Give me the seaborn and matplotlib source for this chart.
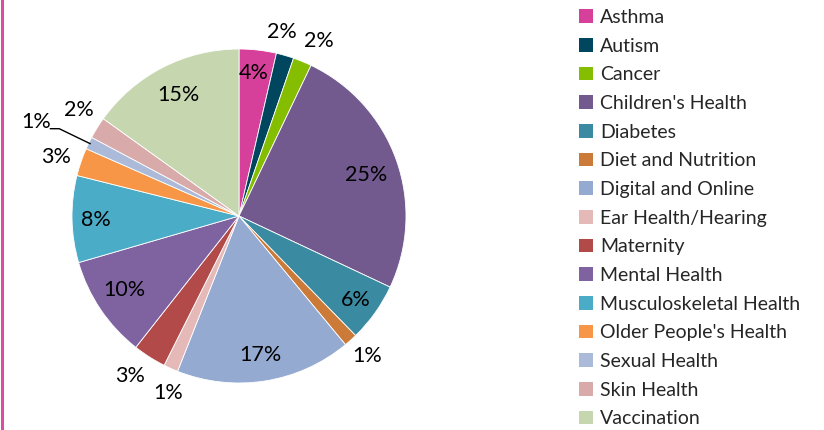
import numpy as np
import matplotlib
matplotlib.use("Agg")
import matplotlib.pyplot as plt
from matplotlib.patches import Patch
import seaborn as sns

categories = ["Asthma", "Autism", "Cancer", "Children's Health", "Diabetes",
              "Diet and Nutrition", "Digital and Online", "Ear Health/Hearing",
              "Maternity", "Mental Health", "Musculoskeletal Health",
              "Older People's Health", "Sexual Health", "Skin Health", "Vaccination"]
values = [3.6, 1.7, 1.8, 24.9, 5.7, 1.3, 17.0, 1.4, 3.2, 9.9, 8.4, 2.7, 1.2, 2.1, 15.1]
pct_labels = ["4%", "2%", "2%", "25%", "6%", "1%", "17%", "1%", "3%", "10%",
              "8%", "3%", "1%", "2%", "15%"]
colors = ["#D6409A", "#00465E", "#85BD00", "#725A8F", "#3A8BA1", "#CC7A38",
          "#94AAD0", "#E6B9B9", "#B24A4A", "#7F63A1", "#4BACC7", "#F79646",
          "#AABAD8", "#D9AAAA", "#C6D7B0"]
# label placement: radial distance (fraction of radius) and angular nudge (deg, clockwise)
label_r = [0.86, 1.13, 1.15, 0.80, 0.86, 1.14, 0.84, 1.14, 1.16, 0.82, 0.86,
           1.15, 1.34, 1.15, 0.81]
label_nudge = [-0.5, -3.0, 2.3, 1.7, 0.4, -0.5, 0.4, -2.2, 1.9, 1.2, -0.5,
               -0.9, -1.2, 1.5, 0.4]

sns.set_theme(style="white")
plt.rcParams["font.family"] = ["Lato", "DejaVu Sans"]

W, H = 824, 430
fig = plt.figure(figsize=(W / 100, H / 100), dpi=100)
cx, cy, R = 239, 216, 167
ax = fig.add_axes([(cx - R) / W, (H - cy - R) / H, 2 * R / W, 2 * R / H])

palette = sns.color_palette(colors)
wedges, _ = ax.pie(values, colors=palette, startangle=90, counterclock=False,
                   radius=1.0, wedgeprops=dict(edgecolor="white", linewidth=0.6))
ax.set_xlim(-1, 1)
ax.set_ylim(-1, 1)
ax.set_aspect("equal")
ax.axis("off")

fs_pct = 15.5
for w, lab, r, nd in zip(wedges, pct_labels, label_r, label_nudge):
    ang = np.deg2rad((w.theta1 + w.theta2) / 2 - nd)
    x, y = r * np.cos(ang), r * np.sin(ang)
    ax.text(x, y, lab, ha="center", va="center", fontsize=fs_pct, color="black",
            clip_on=False)

# leader line for the small Sexual Health slice
i = categories.index("Sexual Health")
wsh = wedges[i]
ang = np.deg2rad((wsh.theta1 + wsh.theta2) / 2)
ex, ey = 0.99 * np.cos(ang), 0.99 * np.sin(ang)
kx, ky = ex - 0.186, ey + 0.09
ax.plot([ex, kx, kx - 0.054], [ey, ky, ky], color="black", lw=1.0, clip_on=False)

fs = 14
handles = [Patch(facecolor=c, edgecolor="none") for c in palette]
fig.legend(handles, categories, loc="upper left",
           bbox_to_anchor=(579 / W, 1 - 9 / H), frameon=False, fontsize=fs,
           handlelength=0.72, handleheight=0.72, handletextpad=0.38,
           labelspacing=0.60, borderpad=0, borderaxespad=0)

# pink border on the left edge
fig.add_artist(plt.Line2D([1.5 / W, 1.5 / W], [0, 1], color="#D94F9F", lw=2.2,
                          transform=fig.transFigure))

fig.savefig("out.png", dpi=100)
